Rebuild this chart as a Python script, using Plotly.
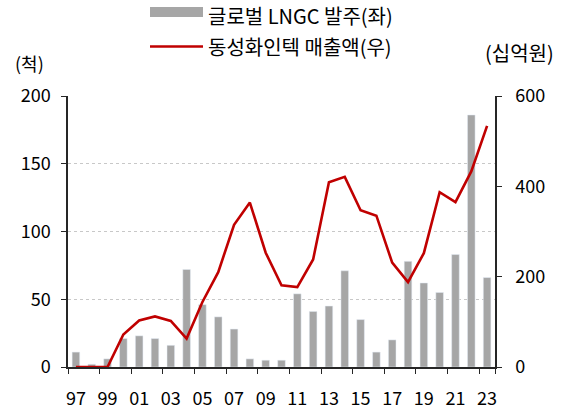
import plotly.graph_objects as go

years = ["97", "98", "99", "00", "01", "02", "03", "04", "05", "06", "07", "08", "09",
         "10", "11", "12", "13", "14", "15", "16", "17", "18", "19", "20", "21", "22", "23"]
lngc_orders = [11, 2, 6, 21, 23, 21, 16, 72, 46, 37, 28, 6, 5,
               5, 54, 41, 45, 71, 35, 11, 20, 78, 62, 55, 83, 186, 66]
dongsung_sales = [0, 0, 0, 72, 103, 112, 102, 63, 144, 210, 315, 364, 253,
                  181, 177, 238, 409, 421, 347, 335, 231, 188, 252, 387, 365, 433, 534]
xtick_labels = ["97", "99", "01", "03", "05", "07", "09", "11", "13", "15", "17", "19", "21", "23"]

bar_name = "글로벌 LNGC 발주(좌)"
line_name = "동성화인텍 매출액(우)"
left_unit = "(척)"
right_unit = "(십억원)"

FONT = "Noto Sans CJK KR"
BAR_COLOR = "#A6A6A6"
LINE_COLOR = "#C00000"
AXIS_COLOR = "#262626"

fig = go.Figure()
fig.add_trace(go.Bar(x=years, y=lngc_orders, name=bar_name, marker_color=BAR_COLOR,
                     yaxis="y", showlegend=False))
fig.add_trace(go.Scatter(x=years, y=dongsung_sales, name=line_name, mode="lines",
                         line=dict(color=LINE_COLOR, width=2.6), yaxis="y2", showlegend=False))

fig.update_layout(
    width=564, height=412,
    margin=dict(l=68, r=69, t=96, b=45, autoexpand=False),
    paper_bgcolor="white", plot_bgcolor="white",
    font=dict(family=FONT, size=18, color="#000000"),
    bargap=0.52,
    xaxis=dict(type="category", tickvals=xtick_labels, ticktext=xtick_labels,
               tickson="boundaries", ticks="outside", ticklen=5, tickcolor=AXIS_COLOR,
               showline=True, linecolor=AXIS_COLOR, linewidth=1.5, showgrid=False,
               range=[-0.5, 26.5], tickangle=0, automargin=False,
               ticklabelstandoff=15, tickfont=dict(size=18)),
    yaxis=dict(range=[0, 200], dtick=50, ticks="outside", ticklen=5, tickcolor=AXIS_COLOR,
               showline=True, linecolor=AXIS_COLOR, linewidth=1.5, automargin=False,
               showgrid=True, gridcolor="#C8C8C8", griddash="dot", gridwidth=1.2,
               zeroline=False, ticklabelstandoff=7, tickfont=dict(size=18)),
    yaxis2=dict(range=[0, 600], dtick=200, overlaying="y", side="right",
                ticks="outside", ticklen=5, tickcolor=AXIS_COLOR, automargin=False,
                showline=True, linecolor=AXIS_COLOR, linewidth=1.5,
                showgrid=False, zeroline=False, ticklabelstandoff=10,
                tickfont=dict(size=18)),
)

# custom legend
fig.add_shape(type="rect", xref="paper", yref="paper",
              x0=(150 - 68) / 427, x1=(203 - 68) / 427,
              y0=(367 - 17) / 271, y1=(367 - 7) / 271,
              fillcolor=BAR_COLOR, line=dict(width=0))
fig.add_shape(type="line", xref="paper", yref="paper",
              x0=(150 - 68) / 427, x1=(203 - 68) / 427,
              y0=(367 - 46.5) / 271, y1=(367 - 46.5) / 271,
              line=dict(color=LINE_COLOR, width=2.6))
fig.add_annotation(text=bar_name, xref="paper", yref="paper",
                   x=(206 - 68) / 427, y=(367 - 15) / 271, xanchor="left", yanchor="middle",
                   showarrow=False, font=dict(size=20))
fig.add_annotation(text=line_name, xref="paper", yref="paper",
                   x=(206 - 68) / 427, y=(367 - 46) / 271, xanchor="left", yanchor="middle",
                   showarrow=False, font=dict(size=20))
fig.add_annotation(text=left_unit, xref="paper", yref="paper",
                   x=(29.5 - 68) / 427, y=(367 - 63) / 271, xanchor="center", yanchor="middle",
                   showarrow=False, font=dict(size=18))
fig.add_annotation(text=right_unit, xref="paper", yref="paper",
                   x=(519 - 68) / 427, y=(367 - 53) / 271, xanchor="center", yanchor="middle",
                   showarrow=False, font=dict(size=20))

fig.write_html("out.html", config={"displayModeBar": False},
               post_script="document.body.style.margin='0';")
